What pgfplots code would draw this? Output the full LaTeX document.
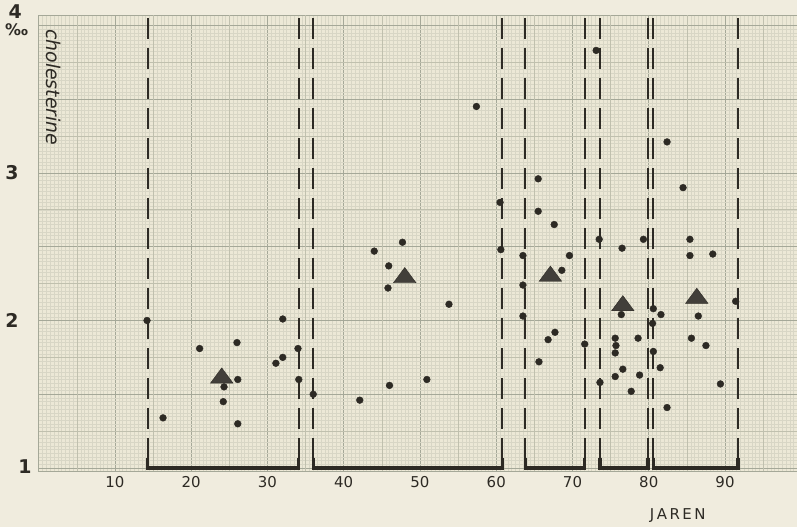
\documentclass[border=0pt]{standalone}
\usepackage{pgfplots}
\pgfplotsset{compat=1.18}
\usepackage{fontspec}
\setmainfont{DejaVu Sans}
\definecolor{paper}{RGB}{236,232,214}
\definecolor{page}{RGB}{240,236,222}
\definecolor{gridfine}{RGB}{216,214,197}
\definecolor{gridmid}{RGB}{192,192,174}
\definecolor{gridmajor}{RGB}{165,168,152}
\definecolor{ink}{RGB}{45,42,36}

\begin{document}
\begin{tikzpicture}
\fill[page] (-38.75bp,-56bp) rectangle (758.25bp,471bp);
\useasboundingbox (-38.75bp,-56bp) rectangle (758.25bp,471bp);
\begin{axis}[
    at={(0,0)}, anchor=south west,
    scale only axis,
    width=762.5bp, height=456bp,
    xmin=0, xmax=100, ymin=0.98, ymax=4.07,
    axis background/.style={fill=paper},
    xtick={0,10,...,100},
    xticklabels={,10,20,30,40,50,60,70,80,90,},
    extra x ticks={5,15,...,95},
    extra x tick labels={},
    extra x tick style={major grid style={gridmid, line width=0.6bp}},
    minor x tick num=19,
    ytick={1,1.5,...,4},
    yticklabels={},
    extra y ticks={1.25,1.75,...,3.75},
    extra y tick labels={},
    extra y tick style={major grid style={gridmid, line width=0.6bp}},
    minor y tick num=19,
    grid=both,
    major grid style={gridmajor, line width=0.8bp},
    minor grid style={gridfine, line width=0.35bp},
    tick style={draw=none},
    axis line style={gridmajor, line width=0.8bp},
    xticklabel style={font=\fontsize{15}{15}\selectfont, text=ink, yshift=-2bp},
    clip=false,
]
% group boundaries
\addplot[ink, line width=2bp, dash pattern=on 21bp off 9bp] coordinates {(14.3,4.05)(14.3,1)};
\addplot[ink, line width=2bp, dash pattern=on 21bp off 9bp] coordinates {(34.1,4.05)(34.1,1)};
\addplot[ink, line width=2bp, dash pattern=on 21bp off 9bp] coordinates {(36.0,4.05)(36.0,1)};
\addplot[ink, line width=2bp, dash pattern=on 21bp off 9bp] coordinates {(60.8,4.05)(60.8,1)};
\addplot[ink, line width=2bp, dash pattern=on 21bp off 9bp] coordinates {(63.8,4.05)(63.8,1)};
\addplot[ink, line width=2bp, dash pattern=on 21bp off 9bp] coordinates {(71.6,4.05)(71.6,1)};
\addplot[ink, line width=2bp, dash pattern=on 21bp off 9bp] coordinates {(73.6,4.05)(73.6,1)};
\addplot[ink, line width=2bp, dash pattern=on 21bp off 9bp] coordinates {(79.9,4.05)(79.9,1)};
\addplot[ink, line width=2bp, dash pattern=on 21bp off 9bp] coordinates {(80.6,4.05)(80.6,1)};
\addplot[ink, line width=2bp, dash pattern=on 21bp off 9bp] coordinates {(91.7,4.05)(91.7,1)};
% brackets along the base
\addplot[ink, line width=3.4bp] coordinates {(14.3,1.07)(14.3,1)(34.1,1)(34.1,1.07)};
\addplot[ink, line width=3.4bp] coordinates {(36.0,1.07)(36.0,1)(60.8,1)(60.8,1.07)};
\addplot[ink, line width=3.4bp] coordinates {(63.8,1.07)(63.8,1)(71.6,1)(71.6,1.07)};
\addplot[ink, line width=3.4bp] coordinates {(73.6,1.07)(73.6,1)(79.9,1)(79.9,1.07)};
\addplot[ink, line width=3.4bp] coordinates {(80.6,1.07)(80.6,1)(91.7,1)(91.7,1.07)};
% individual values
\addplot[only marks, mark=*, mark size=3.4bp, ink] coordinates {
    (14.2,2.00) (16.3,1.34) (21.1,1.81) (24.3,1.55) (24.2,1.45)
    (26.0,1.85) (26.1,1.60) (26.1,1.30) (31.1,1.71) (32.0,1.75)
    (32.0,2.01) (34.0,1.81) (34.1,1.60)
    (36.0,1.50) (42.1,1.46) (44.0,2.47) (45.9,2.37) (45.8,2.22)
    (46.0,1.56) (47.7,2.53) (50.9,1.60) (53.8,2.11) (57.4,3.45)
    (60.5,2.80) (60.6,2.48) (63.5,2.44) (63.5,2.24) (63.5,2.03)
    (65.5,2.96) (65.5,2.74) (67.6,2.65) (68.6,2.34) (69.6,2.44)
    (67.7,1.92) (66.8,1.87) (65.6,1.72) (71.6,1.84)
    (73.1,3.83) (73.5,2.55) (73.6,1.58) (75.6,1.88) (75.7,1.83)
    (75.6,1.78) (75.6,1.62) (76.5,2.49) (76.4,2.04) (76.6,1.67)
    (77.7,1.52) (78.6,1.88) (78.8,1.63) (79.3,2.55)
    (80.6,2.08) (81.6,2.04) (80.5,1.98) (80.6,1.79) (81.5,1.68)
    (82.4,1.41) (82.4,3.21) (84.5,2.90) (85.4,2.55) (85.4,2.44)
    (88.4,2.45) (86.5,2.03) (85.6,1.88) (87.5,1.83) (89.4,1.57)
    (91.4,2.13)
};
% group means
\addplot[only marks, mark=triangle*, mark size=13bp, ink, mark options={fill=ink!90, yscale=0.78}] coordinates {
    (24.0,1.61) (48.0,2.29) (67.1,2.30) (76.6,2.10) (86.3,2.15)
};
\node[font=\fontsize{19}{19}\selectfont\itshape, rotate=-90, text=ink] at (axis cs:1.9,3.58) {cholesterine};
\node[font=\fontsize{19}{19}\selectfont\bfseries, text=ink] at (axis cs:-3.1,4.09) {4};
\node[font=\fontsize{16}{16}\selectfont\bfseries, text=ink] at (axis cs:-2.9,3.97) {‰};
\node[font=\fontsize{19}{19}\selectfont\bfseries, text=ink] at (axis cs:-3.5,3.0) {3};
\node[font=\fontsize{19}{19}\selectfont\bfseries, text=ink] at (axis cs:-3.5,2.0) {2};
\node[font=\fontsize{19}{19}\selectfont\bfseries, text=ink] at (axis cs:-1.8,1.01) {1};
\node[font=\fontsize{15}{15}\selectfont, text=ink] at (axis cs:83.8,0.68) {J\,A\,R\,E\,N};
\end{axis}
\end{tikzpicture}
\end{document}
